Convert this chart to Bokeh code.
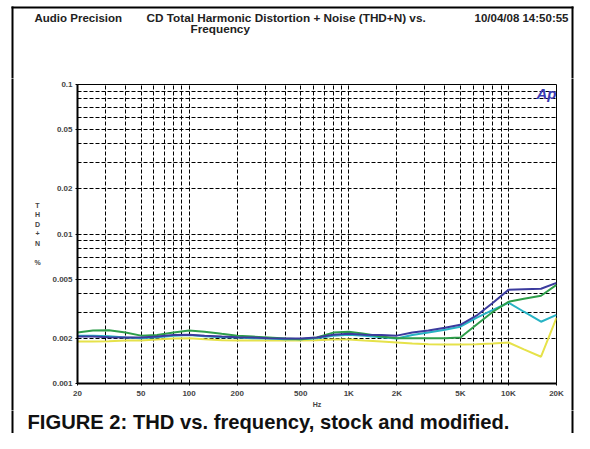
from bokeh.plotting import figure
from bokeh.models import FixedTicker, Label, Range1d
from bokeh.layouts import column, row
from bokeh.core.properties import value
from bokeh.embed import file_html
from bokeh.resources import INLINE

# ---- data ----
freqs = [20, 25, 31.5, 40, 50, 63, 80, 100, 125, 160, 200, 250, 315, 400, 500, 630,
         800, 1000, 1250, 1600, 2000, 2500, 3150, 4000, 5000, 6300, 8000, 10000,
         12500, 16000, 20000]

thd_green = [0.00219, 0.00226, 0.00227, 0.00219, 0.00209, 0.00211, 0.00219, 0.00226,
             0.00222, 0.00215, 0.00209, 0.00206, 0.00203, 0.00200, 0.00198, 0.00203,
             0.00219, 0.00222, 0.00215, 0.00206, 0.00201, 0.00201, 0.00201, 0.00201,
             0.00203, 0.00247, 0.00302, 0.00352, 0.00369, 0.00386, 0.00457]

thd_blue = [0.00206, 0.00206, 0.00204, 0.00203, 0.00203, 0.00206, 0.00211, 0.00212,
            0.00209, 0.00206, 0.00204, 0.00203, 0.00201, 0.00200, 0.00200, 0.00203,
            0.00212, 0.00215, 0.00212, 0.00211, 0.00209, 0.00219, 0.00226, 0.00236,
            0.00247, 0.00284, 0.00347, 0.00423, 0.00427, 0.00430, 0.00471]

thd_cyan = [0.00209, 0.00209, 0.00207, 0.00203, 0.00201, 0.00204, 0.00209, 0.00211,
            0.00207, 0.00204, 0.00203, 0.00201, 0.00200, 0.00198, 0.00198, 0.00201,
            0.00209, 0.00212, 0.00209, 0.00204, 0.00200, 0.00211, 0.00219, 0.00229,
            0.00240, 0.00275, 0.00311, 0.00347, 0.00302, 0.00259, 0.00288]

thd_yellow = [0.00191, 0.00191, 0.00192, 0.00194, 0.00194, 0.00197, 0.00200, 0.00201,
              0.00198, 0.00195, 0.00194, 0.00194, 0.00194, 0.00194, 0.00194, 0.00195,
              0.00197, 0.00197, 0.00194, 0.00191, 0.00188, 0.00185, 0.00183, 0.00182,
              0.00182, 0.00183, 0.00185, 0.00188, 0.00169, 0.00151, 0.00275]

x_major = [20, 50, 100, 200, 500, 1000, 2000, 5000, 10000, 20000]
x_labels = ["20", "50", "100", "200", "500", "1K", "2K", "5K", "10K", "20K"]
x_minor = [30, 40, 60, 70, 80, 90, 300, 400, 600, 700, 800, 900,
           3000, 4000, 6000, 7000, 8000, 9000]
y_major = [0.001, 0.002, 0.005, 0.01, 0.02, 0.05, 0.1]
y_labels = ["0.001", "0.002", "0.005", "0.01", "0.02", "0.05", "0.1"]
y_minor = [0.003, 0.004, 0.006, 0.007, 0.008, 0.009,
           0.03, 0.04, 0.06, 0.07, 0.08, 0.09]

title_left = "Audio Precision"
title_mid1 = "CD Total Harmonic Distortion + Noise (THD+N) vs."
title_mid2 = "Frequency"
title_right = "10/04/08 14:50:55"
y_title = "T\nH\nD\n+\nN\n\n%"
x_title = "Hz"
caption = "FIGURE 2: THD vs. frequency, stock and modified."

FONT = "Liberation Sans"
W, H = 574, 433
HEAD_H = 78
TOP_B, FRAME_H, BOT_B = 6, 300, 26
MID_H = TOP_B + FRAME_H + BOT_B
FOOT_H = H - HEAD_H - MID_H
LEFT_W, RIGHT_W = 48, 6
CHART_W = W - LEFT_W - RIGHT_W
FR_L, FR_R, FR_T = 12, 572, 7      # outer frame (figure px)


def blank(w, h):
    f = figure(width=w, height=h, x_range=Range1d(0, w), y_range=Range1d(h, 0),
               x_axis_location=None, y_axis_location=None,
               min_border=0, min_border_left=0, min_border_right=0,
               min_border_top=0, min_border_bottom=0,
               output_backend="svg", toolbar_location=None)
    f.frame_align = False
    f.grid.visible = False
    f.outline_line_color = None
    f.background_fill_color = "white"
    f.border_fill_color = "white"
    return f


def vbar_line(f, x, y0, y1):
    f.quad(left=[x - 1], right=[x + 1], top=[y0], bottom=[y1],
           fill_color="black", line_color=None)


def txt(f, x, y, text, size, style="bold", align="left", baseline="middle",
        color="#222222", lh=1.2):
    f.text(x=[x], y=[y], text=[text], text_font=value(FONT), text_font_size=size,
           text_font_style=style, text_align=align, text_baseline=baseline,
           text_color=color, text_line_height=lh)


# ---- header ----
head = blank(W, HEAD_H)
head.quad(left=[FR_L - 1], right=[FR_R + 1], top=[FR_T - 1], bottom=[FR_T + 1],
          fill_color="black", line_color=None)
vbar_line(head, FR_L, FR_T - 1, HEAD_H + 2)
vbar_line(head, FR_R, FR_T - 1, HEAD_H + 2)
txt(head, 34, 17, title_left, "11.5px")
txt(head, 146, 17, title_mid1, "11.75px")
txt(head, 190, 28, title_mid2, "11.75px")
txt(head, 568, 17, title_right, "11.5px", align="right")

# ---- left strip with stacked y title ----
left = blank(LEFT_W, MID_H)
vbar_line(left, FR_L, -2, MID_H + 2)
txt(left, 37, 201.5 - HEAD_H, y_title, "7px", align="center", baseline="top",
    color="#444444", lh=1.35)

# ---- right strip ----
right = blank(RIGHT_W, MID_H)
vbar_line(right, FR_R - LEFT_W - CHART_W, -2, MID_H + 2)

# ---- chart ----
p = figure(width=CHART_W, height=MID_H, x_axis_type="log", y_axis_type="log",
           x_range=(20, 20000), y_range=(0.001, 0.1),
           output_backend="svg", toolbar_location=None,
           min_border_left=77 - LEFT_W, min_border_right=CHART_W - (77 - LEFT_W) - 479,
           min_border_top=TOP_B, min_border_bottom=BOT_B)
p.frame_align = False
p.background_fill_color = "white"
p.border_fill_color = "white"
p.outline_line_color = "black"
p.outline_line_width = 1

for ax, ticks, labels, minor in ((p.xaxis[0], x_major, x_labels, x_minor),
                                 (p.yaxis[0], y_major, y_labels, y_minor)):
    ax.ticker = FixedTicker(ticks=ticks, minor_ticks=minor)
    ax.major_label_overrides = {t: l for t, l in zip(ticks, labels)}
    ax.axis_line_color = "black"
    ax.axis_line_width = 2
    ax.major_tick_line_color = "black"
    ax.major_tick_in = 0
    ax.major_tick_out = 2
    ax.minor_tick_line_color = None
    ax.major_label_text_font = FONT
    ax.major_label_text_font_style = "bold"
    ax.major_label_text_font_size = "8px"
    ax.major_label_text_color = "#444444"
    ax.major_label_standoff = 1

p.xaxis.axis_label = x_title
p.xaxis.axis_label_text_font = FONT
p.xaxis.axis_label_text_font_size = "7px"
p.xaxis.axis_label_text_font_style = "bold"
p.xaxis.axis_label_text_color = "#444444"
p.xaxis.axis_label_standoff = 0

for g in (p.xgrid[0], p.ygrid[0]):
    g.grid_line_color = "black"
    g.grid_line_dash = "4 2"
    g.grid_line_width = 1
    g.minor_grid_line_color = "black"
    g.minor_grid_line_dash = "4 2"
    g.minor_grid_line_width = 1

colors = {"blue": "#3b3b9e", "cyan": "#27b3c4", "green": "#2e9e4a", "yellow": "#e6e24a"}
for key, ys in (("yellow", thd_yellow), ("cyan", thd_cyan),
                ("green", thd_green), ("blue", thd_blue)):
    p.line(freqs, ys, line_color=colors[key], line_width=2)

p.add_layout(Label(x=459, y=290, x_units="screen", y_units="screen", text="Ap",
                   text_font=FONT, text_font_size="15px",
                   text_font_style="bold italic", text_color="#3a3ab4",
                   text_baseline="middle"))

# ---- footer caption ----
foot = blank(W, FOOT_H)
vbar_line(foot, FR_L, -2, FOOT_H + 2)
vbar_line(foot, FR_R, -2, FOOT_H + 2)
txt(foot, 27, FOOT_H / 2, caption, "20.2px", baseline="middle", color="#111111")

layout = column(head, row(left, p, right), foot)

open("out.html", "w").write(file_html(layout, INLINE))
